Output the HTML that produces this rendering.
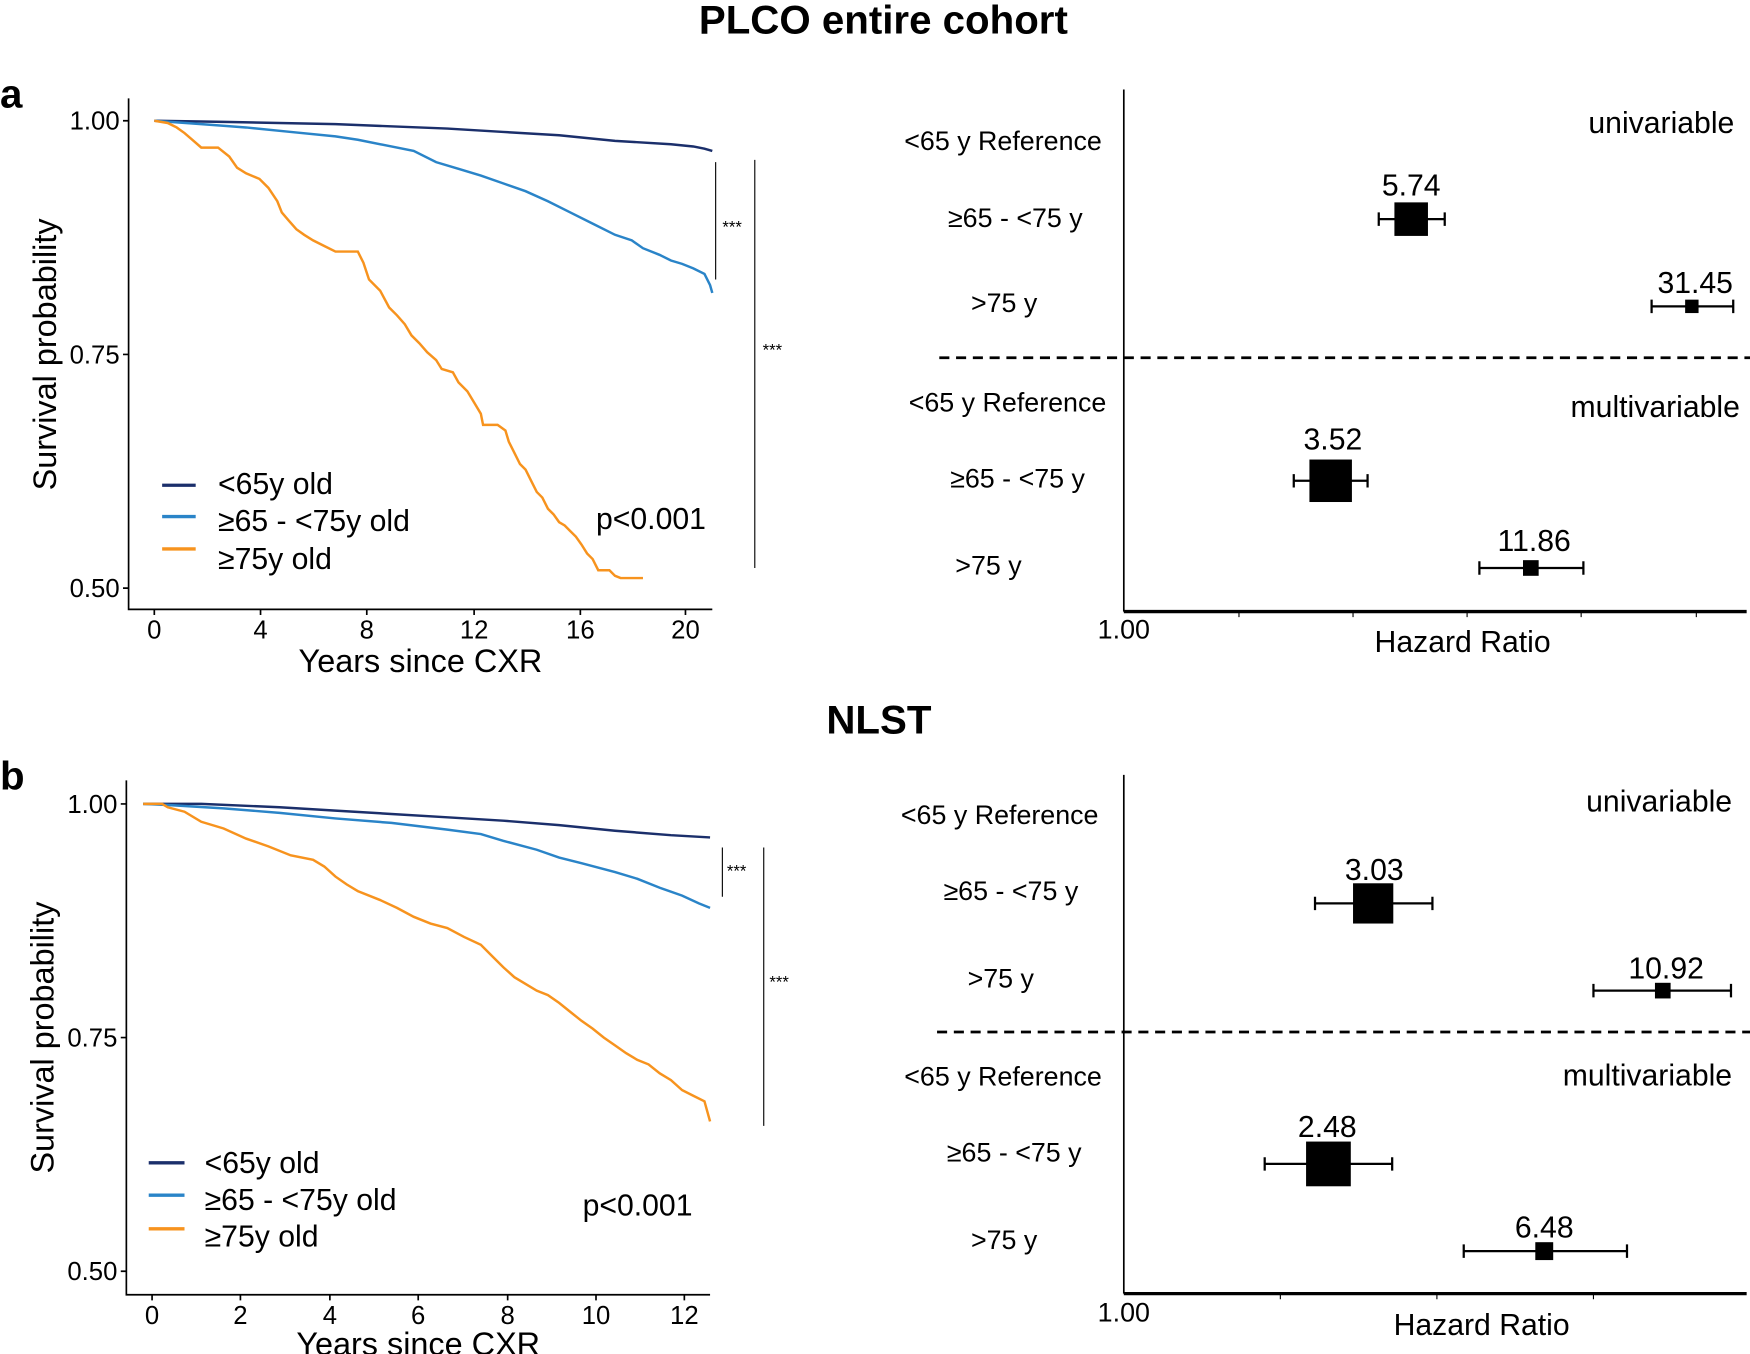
<!DOCTYPE html>
<html><head><meta charset="utf-8"><style>html,body{margin:0;padding:0;background:#fff}svg{display:block}text{font-family:"Liberation Sans",Arial,sans-serif;fill:#000}</style></head>
<body>
<svg width="1750" height="1354" viewBox="0 0 1565 1211" preserveAspectRatio="none" xmlns="http://www.w3.org/2000/svg">
<rect width="1565" height="1211" fill="#fff"/>
<text x="790" y="30" font-size="36" font-weight="bold" text-anchor="middle">PLCO entire cohort</text>
<text x="0" y="96" font-size="36" font-weight="bold">a</text>
<text x="786" y="656" font-size="36" font-weight="bold" text-anchor="middle">NLST</text>
<text x="0" y="706" font-size="36" font-weight="bold">b</text>

<g stroke="#000" stroke-width="1.5" fill="none">
<path d="M115,88 V545 H637"/>
<path d="M110,108H115M110,317H115M110,526H115"/>
<path d="M138,545v5M233,545v5M328,545v5M424,545v5M519,545v5M613,545v5"/>
<path d="M640,145V250M675,143V508" stroke-width="1"/>
</g>
<g font-size="23" text-anchor="end"><text x="107" y="116">1.00</text><text x="107" y="325">0.75</text><text x="107" y="534">0.50</text></g>
<g font-size="23" text-anchor="middle"><text x="138" y="571">0</text><text x="233" y="571">4</text><text x="328" y="571">8</text><text x="424" y="571">12</text><text x="519" y="571">16</text><text x="613" y="571">20</text></g>
<text x="376" y="601" font-size="29" text-anchor="middle">Years since CXR</text>
<text transform="translate(50,317) rotate(-90)" font-size="29" text-anchor="middle">Survival probability</text>
<g fill="none" stroke-width="2.2">
<polyline stroke="#1b2f6b" points="138,108 200,109 300,111 400,115 450,118 500,121 550,126 600,129 620,131 630,133 637,135"/>
<polyline stroke="#2a84c8" points="138,108 180,111 220,114 260,118 300,122 320,125 350,131 370,135 390,145 410,151 430,157 450,164 470,171 490,180 510,190 530,200 550,210 565,215 575,222 590,228 600,233 610,236 620,240 630,245 635,255 637,262"/>
<polyline stroke="#f7931e" points="138,108 150,110 158,114 165,119 172,125 180,132 195,132 205,140 212,150 220,155 232,160 240,168 248,180 252,190 258,197 265,205 272,210 280,215 290,220 300,225 320,225 325,235 330,250 340,260 348,275 355,282 362,290 368,300 375,307 382,315 390,322 395,330 405,333 410,342 418,350 424,360 430,370 432,380 445,380 452,385 455,395 460,405 465,415 470,420 475,430 480,440 485,445 490,455 495,460 500,467 505,470 510,475 515,480 520,487 525,495 530,500 535,510 545,510 550,515 555,517 560,517 570,517 575,517"/>
</g>
<g stroke-width="3"><line x1="145" y1="434" x2="175" y2="434" stroke="#1b2f6b"/><line x1="145" y1="462" x2="175" y2="462" stroke="#2a84c8"/><line x1="145" y1="491" x2="175" y2="491" stroke="#f7931e"/></g>
<g font-size="27"><text x="195" y="442">&lt;65y old</text><text x="195" y="475">≥65 - &lt;75y old</text><text x="195" y="509">≥75y old</text><text x="533" y="473">p&lt;0.001</text></g>
<g font-size="15"><text x="646" y="208">***</text><text x="682" y="318">***</text></g>

<g stroke="#000" fill="none">
<path d="M1005,80V547" stroke-width="1.5"/>
<path d="M1005,547H1562" stroke-width="3"/>
<path d="M1108,547v5M1210,547v5M1312,547v5M1414,547v5M1517,547v5" stroke-width="1"/>
<path d="M840,320H1565" stroke-width="2.5" stroke-dasharray="9,6"/>
<path d="M1233,196H1292M1233,190v12M1292,190v12 M1477,274H1550M1477,268v12M1550,268v12 M1157,430H1223M1157,424v12M1223,424v12 M1323,508H1416M1323,502v12M1416,502v12" stroke-width="2"/>
</g>
<g fill="#000"><rect x="1247" y="181" width="30" height="30"/><rect x="1507" y="268" width="12" height="12"/><rect x="1171" y="411" width="38" height="38"/><rect x="1362" y="501" width="14" height="14"/></g>
<g font-size="24" text-anchor="middle">
<text x="897" y="134">&lt;65 y Reference</text><text x="908" y="203">≥65 - &lt;75 y</text><text x="898" y="279">&gt;75 y</text>
<text x="901" y="368">&lt;65 y Reference</text><text x="910" y="436">≥65 - &lt;75 y</text><text x="884" y="514">&gt;75 y</text>
<text x="1005" y="571">1.00</text>
</g>
<g font-size="27" text-anchor="middle"><text x="1262" y="175">5.74</text><text x="1516" y="262">31.45</text><text x="1192" y="402">3.52</text><text x="1372" y="493">11.86</text><text x="1308" y="583">Hazard Ratio</text></g>
<g font-size="27" text-anchor="end"><text x="1551" y="119">univariable</text><text x="1556" y="373">multivariable</text></g>

<g stroke="#000" stroke-width="1.5" fill="none">
<path d="M113,698V1158H635"/>
<path d="M108,719H113M108,928H113M108,1137H113"/>
<path d="M136,1158v5M215,1158v5M295,1158v5M374,1158v5M454,1158v5M533,1158v5M612,1158v5"/>
<path d="M646,758V802M683,758V1007" stroke-width="1"/>
</g>
<g font-size="23" text-anchor="end"><text x="105" y="727">1.00</text><text x="105" y="936">0.75</text><text x="105" y="1145">0.50</text></g>
<g font-size="23" text-anchor="middle"><text x="136" y="1184">0</text><text x="215" y="1184">2</text><text x="295" y="1184">4</text><text x="374" y="1184">6</text><text x="454" y="1184">8</text><text x="533" y="1184">10</text><text x="612" y="1184">12</text></g>
<text x="374" y="1212" font-size="29" text-anchor="middle">Years since CXR</text>
<text transform="translate(48,928) rotate(-90)" font-size="29" text-anchor="middle">Survival probability</text>
<g fill="none" stroke-width="2.2">
<polyline stroke="#1b2f6b" points="128,719 180,719 250,722 300,725 350,728 400,731 450,734 500,738 550,743 600,747 635,749"/>
<polyline stroke="#2a84c8" points="128,719 150,720 200,723 250,727 300,732 350,736 400,742 430,746 450,752 480,760 500,767 520,772 550,780 570,786 590,794 610,801 625,808 635,812"/>
<polyline stroke="#f7931e" points="128,719 145,719 150,722 165,726 180,735 200,741 220,750 240,757 260,765 280,769 290,775 300,784 310,791 320,797 340,805 355,812 370,820 385,826 400,830 415,838 430,845 440,855 450,865 460,874 470,880 480,886 490,890 500,897 510,905 520,913 530,920 540,928 550,935 560,942 570,948 580,952 590,960 600,966 610,975 620,980 630,985 635,1003"/>
</g>
<g stroke-width="3"><line x1="133" y1="1040" x2="165" y2="1040" stroke="#1b2f6b"/><line x1="133" y1="1069" x2="165" y2="1069" stroke="#2a84c8"/><line x1="133" y1="1099" x2="165" y2="1099" stroke="#f7931e"/></g>
<g font-size="27"><text x="183" y="1049">&lt;65y old</text><text x="183" y="1082">≥65 - &lt;75y old</text><text x="183" y="1115">≥75y old</text><text x="521" y="1087">p&lt;0.001</text></g>
<g font-size="15"><text x="650" y="784">***</text><text x="688" y="883">***</text></g>

<g stroke="#000" fill="none">
<path d="M1005,693V1157" stroke-width="1.5"/>
<path d="M1005,1157H1562" stroke-width="3"/>
<path d="M1145,1157v5M1285,1157v5M1425,1157v5" stroke-width="1"/>
<path d="M838,923H1565" stroke-width="2.5" stroke-dasharray="9,6"/>
<path d="M1176,808H1281M1176,802v12M1281,802v12 M1425,886H1548M1425,880v12M1548,880v12 M1131,1041H1245M1131,1035v12M1245,1035v12 M1309,1119H1455M1309,1113v12M1455,1113v12" stroke-width="2"/>
</g>
<g fill="#000"><rect x="1210" y="790" width="36" height="36"/><rect x="1480" y="879" width="14" height="14"/><rect x="1168" y="1021" width="40" height="40"/><rect x="1373" y="1111" width="16" height="16"/></g>
<g font-size="24" text-anchor="middle">
<text x="894" y="737">&lt;65 y Reference</text><text x="904" y="805">≥65 - &lt;75 y</text><text x="895" y="883">&gt;75 y</text>
<text x="897" y="971">&lt;65 y Reference</text><text x="907" y="1039">≥65 - &lt;75 y</text><text x="898" y="1117">&gt;75 y</text>
<text x="1005" y="1182">1.00</text>
</g>
<g font-size="27" text-anchor="middle"><text x="1229" y="787">3.03</text><text x="1490" y="875">10.92</text><text x="1187" y="1017">2.48</text><text x="1381" y="1107">6.48</text><text x="1325" y="1194">Hazard Ratio</text></g>
<g font-size="27" text-anchor="end"><text x="1549" y="726">univariable</text><text x="1549" y="971">multivariable</text></g>
</svg>
</body></html>
